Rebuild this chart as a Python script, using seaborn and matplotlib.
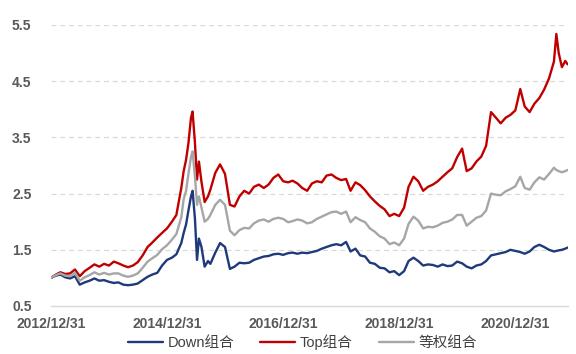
import pandas as pd
import numpy as np
import matplotlib
matplotlib.use('Agg')
import matplotlib.pyplot as plt
import matplotlib.dates as mdates
import seaborn as sns

# ---------- dados ----------
datas = [
    '2012-12-31', '2013-01-31', '2013-02-28', '2013-03-31', '2013-04-30', '2013-05-31',
    '2013-06-30', '2013-07-31', '2013-08-31', '2013-09-30', '2013-10-31', '2013-11-30',
    '2013-12-31', '2014-01-31', '2014-02-28', '2014-03-31', '2014-04-30', '2014-05-31',
    '2014-06-30', '2014-07-31', '2014-08-31', '2014-09-30', '2014-10-31', '2014-11-30',
    '2014-12-31', '2015-01-31', '2015-02-28', '2015-03-31', '2015-04-15', '2015-04-30',
    '2015-05-15', '2015-05-31', '2015-06-10', '2015-06-25', '2015-07-08', '2015-07-20',
    '2015-08-05', '2015-08-25', '2015-09-15', '2015-09-30', '2015-10-31', '2015-11-30',
    '2015-12-31', '2016-01-31', '2016-02-29', '2016-03-31', '2016-04-30', '2016-05-31',
    '2016-06-30', '2016-07-31', '2016-08-31', '2016-09-30', '2016-10-31', '2016-11-30',
    '2016-12-31', '2017-01-31', '2017-02-28', '2017-03-31', '2017-04-30', '2017-05-31',
    '2017-06-30', '2017-07-31', '2017-08-31', '2017-09-30', '2017-10-31', '2017-11-30',
    '2017-12-31', '2018-01-31', '2018-02-28', '2018-03-31', '2018-04-30', '2018-05-31',
    '2018-06-30', '2018-07-31', '2018-08-31', '2018-09-30', '2018-10-31', '2018-11-30',
    '2018-12-31', '2019-01-31', '2019-02-28', '2019-03-31', '2019-04-30', '2019-05-31',
    '2019-06-30', '2019-07-31', '2019-08-31', '2019-09-30', '2019-10-31', '2019-11-30',
    '2019-12-31', '2020-01-31', '2020-02-29', '2020-03-31', '2020-04-30', '2020-05-31',
    '2020-06-30', '2020-07-31', '2020-08-31', '2020-09-30', '2020-10-31', '2020-11-30',
    '2020-12-31', '2021-01-31', '2021-02-28', '2021-03-31', '2021-04-30', '2021-05-31',
    '2021-06-30', '2021-07-31', '2021-08-31', '2021-09-15', '2021-09-30', '2021-10-20',
    '2021-11-10', '2021-11-25',
]

down = [
    1.00, 1.04, 1.06, 1.01, 0.99, 1.03, 0.88, 0.92, 0.95, 0.99, 0.95, 0.96,
    0.93, 0.91, 0.92, 0.88, 0.87, 0.88, 0.90, 0.96, 1.02, 1.06, 1.09, 1.22,
    1.32, 1.36, 1.42, 1.62, 1.80, 1.95, 2.20, 2.45, 2.55, 2.05, 1.32, 1.70,
    1.55, 1.20, 1.30, 1.25, 1.45, 1.62, 1.55, 1.16, 1.20, 1.27, 1.26, 1.27,
    1.32, 1.35, 1.38, 1.39, 1.42, 1.43, 1.41, 1.44, 1.45, 1.43, 1.45, 1.44,
    1.46, 1.48, 1.52, 1.55, 1.58, 1.60, 1.58, 1.64, 1.47, 1.52, 1.40, 1.38,
    1.27, 1.25, 1.18, 1.17, 1.10, 1.12, 1.05, 1.12, 1.30, 1.36, 1.30, 1.22,
    1.24, 1.23, 1.20, 1.24, 1.21, 1.22, 1.29, 1.26, 1.20, 1.17, 1.22, 1.24,
    1.30, 1.40, 1.42, 1.44, 1.46, 1.50, 1.48, 1.46, 1.43, 1.47, 1.55, 1.59,
    1.55, 1.50, 1.47, 1.48, 1.49, 1.50, 1.52, 1.54,
]

top = [
    1.00, 1.06, 1.10, 1.07, 1.08, 1.15, 1.03, 1.12, 1.18, 1.24, 1.20, 1.25,
    1.22, 1.29, 1.26, 1.22, 1.19, 1.22, 1.28, 1.40, 1.55, 1.63, 1.72, 1.80,
    1.88, 2.00, 2.12, 2.60, 2.90, 3.10, 3.40, 3.85, 3.96, 3.40, 2.75, 3.07,
    2.71, 2.35, 2.45, 2.57, 2.87, 3.02, 2.85, 2.30, 2.27, 2.45, 2.55, 2.50,
    2.62, 2.66, 2.60, 2.66, 2.78, 2.84, 2.72, 2.70, 2.73, 2.68, 2.60, 2.55,
    2.68, 2.72, 2.70, 2.82, 2.84, 2.78, 2.74, 2.76, 2.55, 2.70, 2.65, 2.56,
    2.45, 2.36, 2.28, 2.22, 2.10, 2.14, 2.10, 2.25, 2.62, 2.80, 2.72, 2.55,
    2.62, 2.66, 2.72, 2.80, 2.88, 2.95, 3.15, 3.30, 2.90, 2.95, 3.07, 3.16,
    3.35, 3.95, 3.85, 3.75, 3.85, 3.90, 3.98, 4.36, 4.05, 3.95, 4.10, 4.20,
    4.35, 4.55, 4.85, 5.34, 5.00, 4.75, 4.86, 4.80,
]

igual = [
    1.00, 1.05, 1.08, 1.04, 1.03, 1.09, 0.95, 1.01, 1.05, 1.10, 1.06, 1.09,
    1.06, 1.08, 1.08, 1.04, 1.02, 1.04, 1.08, 1.18, 1.29, 1.35, 1.41, 1.51,
    1.58, 1.68, 1.78, 2.08, 2.40, 2.55, 2.85, 3.15, 3.25, 2.80, 2.30, 2.45,
    2.25, 2.00, 2.05, 2.12, 2.30, 2.39, 2.30, 1.84, 1.76, 1.85, 1.89, 1.88,
    1.97, 2.02, 2.04, 2.00, 2.05, 2.07, 2.05, 1.99, 2.01, 2.04, 2.02, 1.97,
    1.99, 2.05, 2.09, 2.13, 2.17, 2.18, 2.14, 2.18, 1.99, 2.08, 2.03, 1.99,
    1.88, 1.82, 1.74, 1.70, 1.60, 1.63, 1.58, 1.70, 1.96, 2.09, 2.02, 1.88,
    1.91, 1.90, 1.93, 1.98, 2.00, 2.04, 2.12, 2.12, 1.93, 2.00, 2.07, 2.10,
    2.20, 2.50, 2.48, 2.47, 2.54, 2.58, 2.63, 2.80, 2.60, 2.57, 2.70, 2.79,
    2.75, 2.85, 2.96, 2.92, 2.90, 2.88, 2.90, 2.92,
]

series_nomes = ['Down组合', 'Top组合', '等权组合']
cores = ['#1F3A7A', '#C00000', '#A6A6A6']
ticks_x = ['2012-12-31', '2014-12-31', '2016-12-31', '2018-12-31', '2020-12-31']
ticks_y = [0.5, 1.5, 2.5, 3.5, 4.5, 5.5]

# ---------- montar tabela longa ----------
df = pd.DataFrame({'Data': pd.to_datetime(datas), 'Down组合': down,
                   'Top组合': top, '等权组合': igual})
df_long = df.melt(id_vars='Data', var_name='Serie', value_name='Valor')

# ---------- gráfico ----------
sns.set_style('white')
fam = ['Liberation Sans', 'Noto Sans CJK SC', 'DejaVu Sans']
plt.rcParams['font.family'] = fam

fig = plt.figure(figsize=(5.76, 3.54), dpi=100)
ax = fig.add_axes([0.0885, 0.1356, 0.8975, 0.7938])

sns.lineplot(data=df_long, x='Data', y='Valor', hue='Serie',
             hue_order=series_nomes, palette=cores, linewidth=1.7,
             ax=ax, legend=False)

ax.set_xlim(pd.Timestamp('2012-12-31'), pd.Timestamp('2021-11-27'))
ax.set_ylim(0.5, 5.5)
ax.set_yticks(ticks_y)
ax.set_xticks(pd.to_datetime(ticks_x))
ax.xaxis.set_major_formatter(mdates.DateFormatter('%Y/%m/%d'))
ax.set_xlabel('')
ax.set_ylabel('')

for y in ticks_y[1:]:
    ax.axhline(y, color='#D9D9D9', linewidth=0.9, linestyle=(0, (4, 3)), zorder=0)

for lado in ['top', 'right', 'left']:
    ax.spines[lado].set_visible(False)
ax.spines['bottom'].set_color('#D9D9D9')
ax.spines['bottom'].set_linewidth(1.0)
ax.tick_params(axis='x', colors='#D9D9D9', length=4, width=1.0, direction='out',
               labelcolor='#595959', labelsize=10, pad=4)
ax.tick_params(axis='y', length=0, labelcolor='#595959', labelsize=10, pad=14)
for lab in ax.get_xticklabels() + ax.get_yticklabels():
    lab.set_fontweight('bold')

handles = [plt.Line2D([], [], color=c, linewidth=1.7) for c in cores]
fig.legend(handles, series_nomes, loc='lower center', bbox_to_anchor=(0.525, -0.025),
           ncol=3, frameon=False, handlelength=2.4, columnspacing=1.8,
           handletextpad=0.3, prop={'family': fam, 'size': 10.5},
           labelcolor='#404040')

plt.savefig('out.png', dpi=100)
plt.close()
